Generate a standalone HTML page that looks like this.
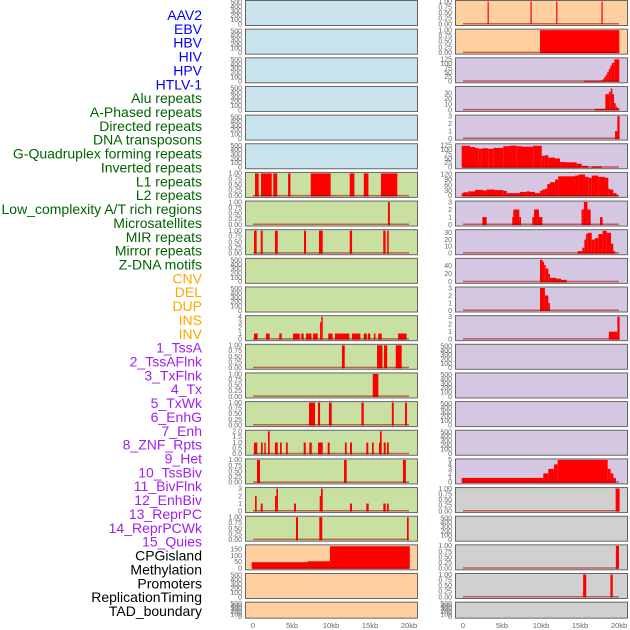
<!DOCTYPE html>
<html><head><meta charset="utf-8">
<style>
html,body{margin:0;padding:0;background:#fff;width:630px;height:630px;overflow:hidden}
svg{display:block;font-family:"Liberation Sans",sans-serif}
</style></head>
<body>
<svg id="chart" width="630" height="630"></svg>
<script>
const labels=["AAV2","EBV","HBV","HIV","HPV","HTLV-1","Alu repeats","A-Phased repeats","Directed repeats","DNA transposons","G-Quadruplex forming repeats","Inverted repeats","L1 repeats","L2 repeats","Low_complexity A/T rich regions","Microsatellites","MIR repeats","Mirror repeats","Z-DNA motifs","CNV","DEL","DUP","INS","INV","1_TssA","2_TssAFlnk","3_TxFlnk","4_Tx","5_TxWk","6_EnhG","7_Enh","8_ZNF_Rpts","9_Het","10_TssBiv","11_BivFlnk","12_EnhBiv","13_ReprPC","14_ReprPCWk","15_Quies","CPGisland","Methylation","Promoters","ReplicationTiming","TAD_boundary"];
const labelColors=[...Array(6).fill("#0000ff"),...Array(13).fill("#006400"),...Array(5).fill("#ffa500"),...Array(15).fill("#a020f0"),...Array(5).fill("#000000")];
const panelColors=[...Array(6).fill("#c8e3eb"),...Array(13).fill("#c8e1a3"),...Array(5).fill("#ffd09f"),...Array(15).fill("#d5c6e2"),...Array(5).fill("#d0d0d0")];
const xTicks=[0,5,10,15,20];
const xTickLabels=["0","5kb","10kb","15kb","20kb"];
const T500=["0","100","200","300","400","500"],T1=["0.00","0.25","0.50","0.75","1.00"];
// each track: [ymax, tick values, tick labels, bars [startKb,endKb,value]]
const E=[];
const t7=[[0.26,0.73,1],[1.03,2.4,1],[2.6,3.1,1],[4.5,4.8,1],[7.4,9.96,1],[12.4,13,1],[14.2,14.8,1],[16.4,18.5,1]];
const t8=[[17.3,17.55,1]];
const t9=[[0.13,0.47,1],[0.99,1.24,1],[2.82,3.17,1],[6.54,6.8,1],[8.46,8.94,1],[12.4,12.7,1],[16.7,17,1],[17.2,17.4,1]];
const t12=[[0.13,0.6,1],[1.67,2.14,1],[3.37,3.68,1],[5.13,5.99,1],[6.19,6.5,1],[6.79,7.5,1],[7.7,8.3,1],[8.6,8.75,3],[8.75,8.94,4],[9.65,10.2,1],[10.5,12.35,1],[12.7,13.76,1],[14.2,14.6,1],[14.74,15.04,1],[15.5,15.7,1],[16.06,16.5,1],[18.6,19.7,1]];
const t13=[[11.4,11.76,1],[15.9,16.6,1],[16.8,17.2,1],[18.3,19.06,1]];
const t14=[[15.35,16.07,1]];
const t15=[[7.18,7.95,1],[8.33,8.6,1],[9.74,10.09,1],[13.9,14.2,1],[17.8,18.04,1],[19.49,19.74,1]];
const t16=[[0.13,0.55,1],[1.03,1.24,1],[1.45,1.63,1],[1.92,2.14,2],[2.82,3.17,1],[3.46,3.68,1],[4.23,4.45,1],[6.5,6.76,1],[7.22,7.53,1],[8.33,8.94,1],[9.58,9.83,1],[11.79,12.01,1],[12.44,12.69,1],[14.53,14.78,1],[15.26,15.47,1],[16.15,16.28,1],[16.28,16.5,2],[16.76,17.01,1],[17.18,17.4,1]];
const t17=[[0.51,0.9,1],[11.67,12.01,1],[19.23,19.6,1]];
const t18=[[0.26,0.47,2],[0.99,1.24,1],[2.82,3.0,2],[3.0,3.2,3],[5.26,5.51,1],[8.55,8.72,2],[8.72,8.94,3],[12.44,12.69,1],[14.53,14.83,1],[16.71,17.01,1],[17.18,17.4,1]];
const t19=[[5.51,5.77,1],[8.5,8.88,1],[19.74,19.96,1]];
const t20=[[-0.17,7.0,48],[7.0,9.87,55],[9.87,20.1,172]];
const t23=[[3.15,3.3,1],[8.65,8.8,1],[11.95,12.1,1],[17.75,17.9,1]];
const t24=[[9.87,20.04,1]];
const t25=[[15.5,17.6,3],[17.6,17.9,5],[17.9,18.1,12],[18.1,18.3,25],[18.3,18.5,38],[18.5,18.7,55],[18.7,18.9,72],[18.9,19.1,90],[19.1,19.4,105],[19.4,20.04,125]];
const t26=[[16.9,18.25,2],[18.25,18.73,28],[18.73,18.94,32],[18.94,19.15,38],[19.15,19.36,28],[19.36,19.58,12],[19.58,19.79,6],[19.79,20.04,3]];
const t27=[[19.49,19.79,1],[19.79,20.08,3]];
const t28=[[-0.17,0.9,122],[0.9,1.54,115],[1.54,1.96,110],[1.96,2.4,105],[2.4,3.24,108],[3.24,3.88,105],[3.88,5.17,110],[5.17,6.03,120],[6.03,6.88,123],[6.88,7.5,120],[7.5,9.0,117],[9.0,10.09,122],[10.09,10.5,65],[10.5,10.94,68],[10.94,11.8,55],[11.8,12.44,50],[12.44,13.08,30],[13.08,14.58,28],[14.58,15.22,20],[15.22,16.07,8],[16.5,17.78,5]];
const t29=[[-0.17,0.04,15],[0.04,0.68,20],[0.68,1.54,25],[1.54,2.61,33],[2.61,3.03,30],[3.03,4.1,35],[4.1,5.17,32],[5.17,5.6,28],[5.6,7.3,15],[7.3,8.16,22],[8.16,8.59,25],[8.59,9.23,22],[9.23,9.87,15],[9.87,10.17,28],[10.17,10.5,35],[10.5,10.8,40],[10.8,11.15,65],[11.15,11.8,75],[11.8,12.2,90],[12.2,14.36,108],[14.36,14.8,112],[14.8,15.64,118],[15.64,16.07,105],[16.07,16.5,100],[16.5,17.35,112],[17.35,18.2,105],[18.2,18.63,100],[18.63,18.85,40],[18.85,19.27,35],[19.27,19.7,15],[19.7,19.9,5]];
const t30=[[2.48,3.03,1],[6.32,6.45,1],[6.45,7.22,2],[7.22,7.44,1],[8.89,9.1,1],[9.1,9.74,2],[9.74,10.17,1],[15.2,15.5,2],[15.5,15.95,3],[15.95,16.37,2],[17.56,17.9,1]];
const t31=[[14.7,15.3,3],[15.3,15.56,8],[15.56,15.77,20],[15.77,15.98,28],[15.98,16.5,30],[16.5,16.9,20],[16.9,17.35,22],[17.35,17.9,28],[17.9,18.42,33],[18.42,18.97,30],[18.97,19.27,14],[19.27,19.5,3]];
const t32=[[9.87,10.2,55],[10.2,10.4,50],[10.4,10.6,42],[10.6,10.94,33],[10.94,11.15,20],[11.15,11.92,10],[11.92,12.56,8],[12.56,13.29,5]];
const t33=[[9.87,10.5,3],[10.5,10.94,2],[10.94,11.15,1]];
const t34=[[18.7,19.79,1],[19.79,20.08,3]];
const t39=[[-0.17,10.3,1],[10.3,10.94,2],[10.94,11.67,3],[11.67,12.14,4],[12.14,18.55,5],[18.55,18.93,3],[18.93,19.27,2],[19.27,19.6,1]];
const t40=[[19.57,20.08,1]];
const t42=[[19.6,20.0,1]];
const t43=[[15.4,15.8,1],[18.9,19.2,1]];
const tracks=[
[520,[0,100,200,300,400,500],T500,E],[520,[0,100,200,300,400,500],T500,E],[520,[0,100,200,300,400,500],T500,E],[520,[0,100,200,300,400,500],T500,E],[520,[0,100,200,300,400,500],T500,E],[520,[0,100,200,300,400,500],T500,E],
[1,[0,.25,.5,.75,1],T1,t7],[1,[0,.25,.5,.75,1],T1,t8],[1,[0,.25,.5,.75,1],T1,t9],
[520,[0,100,200,300,400,500],T500,E],[520,[0,100,200,300,400,500],T500,E],
[4,[0,1,2,3,4],["0","1","2","3","4"],t12],
[1,[0,.25,.5,.75,1],T1,t13],[1,[0,.25,.5,.75,1],T1,t14],[1,[0,.25,.5,.75,1],T1,t15],
[2,[0,.5,1,1.5,2],["0.0","0.5","1.0","1.5","2.0"],t16],
[1,[0,.25,.5,.75,1],T1,t17],
[3,[0,1,2,3],["0","1","2","3"],t18],
[1,[0,.25,.5,.75,1],T1,t19],
[175,[0,50,100,150],["0","50","100","150"],t20],
[520,[0,100,200,300,400,500],T500,E],[520,[0,100,200,300,400,500],T500,E],
[1,[0,.25,.5,.75,1],T1,t23],[1,[0,.25,.5,.75,1],T1,t24],
[128,[0,25,50,75,100,125],["0","25","50","75","100","125"],t25],
[40,[0,10,20,30],["0","10","20","30"],t26],
[3,[0,1,2,3],["0","1","2","3"],t27],
[128,[0,25,50,75,100,125],["0","25","50","75","100","125"],t28],
[124,[0,30,60,90,120],["0","30","60","90","120"],t29],
[3,[0,1,2,3],["0","1","2","3"],t30],
[33,[0,10,20,30],["0","10","20","30"],t31],
[56,[0,20,40],["0","20","40"],t32],
[3,[0,1,2,3],["0","1","2","3"],t33],
[3,[0,1,2,3],["0","1","2","3"],t34],
[520,[0,100,200,300,400,500],T500,E],[520,[0,100,200,300,400,500],T500,E],[520,[0,100,200,300,400,500],T500,E],[520,[0,100,200,300,400,500],T500,E],
[5,[0,1,2,3,4,5],["0","1","2","3","4","5"],t39],
[1,[0,.25,.5,.75,1],T1,t40],
[520,[0,100,200,300,400,500],T500,E],
[1,[0,.25,.5,.75,1],T1,t42],[1,[0,.25,.5,.75,1],T1,t43],
[520,[0,100,200,300,400,500],T500,E]];

const NS="http://www.w3.org/2000/svg";
const svg=document.getElementById("chart");
function mk(tag,attrs,parent){const e=document.createElementNS(NS,tag);for(const k in attrs)e.setAttribute(k,attrs[k]);(parent||svg).appendChild(e);return e;}
// labels
labels.forEach((l,i)=>{
  const t=mk("text",{x:202,y:15+i*13.86+5,"text-anchor":"end","font-size":"14",fill:labelColors[i]});
  t.textContent=l;
  
  
});
const colX=[245,455],panelW=172;
function xScale(col,kb){return colX[col]+8+kb*7.8;}
tracks.forEach((tr,i)=>{
  const col=i<22?0:1,row=i%22;
  const top=row*28.65,h=row===21?16:25;
  const g=mk("g",{});
  
  
  const px=colX[col];
  mk("rect",{x:px+0.5,y:top+0.5,width:panelW,height:h,fill:panelColors[i],stroke:"#666","stroke-width":"1"},g);
  const [ymax,tv,tl,bars]=tr;
  const y0=top+h-1,y1=top+1.5;
  const yS=v=>y0-(v/ymax)*(y0-y1);
  tv.forEach((v,k)=>{
    const t=mk("text",{x:px-3,y:yS(v)+2.3,"text-anchor":"end","font-size":"7",fill:"#666"},g);
    t.textContent=tl[k];
    
    
  });
  if(bars.length){
    bars.forEach(b=>{
      const x1=xScale(col,b[0]),x2=xScale(col,b[1]);
      const r=mk("rect",{x:x1,y:yS(b[2]),width:Math.max(1.2,x2-x1),height:y0-yS(b[2])+0.5,fill:"#ff0000"},g);
      
      
    });
    const bl=mk("line",{x1:xScale(col,0),x2:xScale(col,20),y1:y0-0.3,y2:y0-0.3,stroke:"rgba(170,0,0,0.55)","stroke-width":"1.5"},g);
    
    
  }
});
[0,1].forEach(col=>{
  xTicks.forEach((v,k)=>{
    const t=mk("text",{x:xScale(col,v),y:628,"text-anchor":"middle","font-size":"7.5",fill:"#666"});
    t.textContent=xTickLabels[k];
    
    
  });
});
</script>
</body></html>
